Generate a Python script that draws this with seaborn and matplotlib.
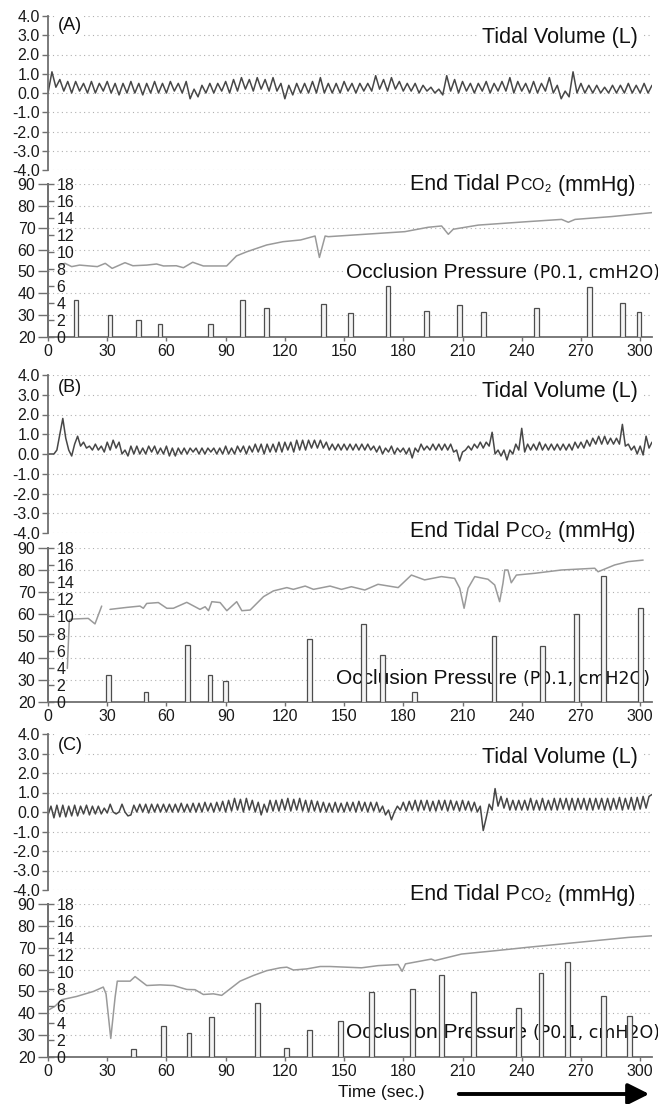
import numpy as np
import pandas as pd
import matplotlib
matplotlib.use("Agg")
import matplotlib.pyplot as plt
from matplotlib import font_manager
from matplotlib.offsetbox import TextArea, HPacker, AnnotationBbox
from matplotlib.patches import FancyArrowPatch
import seaborn as sns

# ---- values ----
TIME_TICKS = [0, 30, 60, 90, 120, 150, 180, 210, 240, 270, 300]
TV_TICKS = [4.0, 3.0, 2.0, 1.0, 0.0, -1.0, -2.0, -3.0, -4.0]
PCO2_TICKS = [20, 30, 40, 50, 60, 70, 80, 90]
P01_TICKS = [0, 2, 4, 6, 8, 10, 12, 14, 16, 18]

# tidal volume (L), alternating trough / peak samples every TV_STEP seconds
TV_STEP_A = 2.0
TV_A = [
    0.0, 1.1, 0.3, 0.7, 0.1, 0.6, 0.0, 0.6, 0.1, 0.5, 0.0, 0.6, 0.0, 0.5, 0.1, 0.6, 0.0, 0.5, -0.1, 0.5,
    0.0, 0.6, 0.0, 0.5, -0.1, 0.5, 0.0, 0.6, 0.0, 0.5, 0.0, 0.6, 0.1, 0.5, 0.0, 0.6, -0.3, 0.2, -0.2, 0.4,
    0.0, 0.5, 0.0, 0.5, 0.1, 0.6, 0.0, 0.7, 0.1, 0.8, 0.2, 0.7, 0.1, 0.8, 0.2, 0.7, 0.1, 0.8, 0.1, 0.5,
    -0.3, 0.4, -0.1, 0.5, 0.0, 0.5, 0.0, 0.6, 0.0, 0.8, 0.0, 0.5, 0.0, 0.5, 0.0, 0.6, 0.1, 0.5, 0.0, 0.5,
    0.1, 0.5, 0.1, 0.9, 0.2, 0.7, 0.1, 0.8, 0.2, 0.6, 0.1, 0.5, 0.1, 0.5, 0.0, 0.4, 0.1, 0.3, 0.0, 0.2,
    -0.1, 0.9, 0.1, 0.7, 0.0, 0.6, 0.1, 0.5, 0.0, 0.5, 0.1, 0.6, 0.0, 0.5, 0.1, 0.6, 0.1, 0.8, 0.0, 0.6,
    0.1, 0.5, 0.0, 0.6, 0.0, 0.5, 0.1, 0.8, 0.0, 0.4, -0.3, 0.1, -0.2, 1.1, 0.0, 0.5, 0.0, 0.4, 0.0, 0.4,
    0.0, 0.3, 0.0, 0.4, 0.0, 0.4, 0.0, 0.5, 0.0, 0.4, 0.0, 0.5, 0.0, 0.4,
]
TV_STEP_B = 1.5
TV_B = [
    0.0, 0.0, 0.0, 0.2, 1.0, 1.8, 0.8, 0.2, -0.1, 0.5,
    0.9, 0.4, 0.6, 0.3, 0.4, 0.2, 0.5, 0.2, 0.4, 0.1,
    0.6, 0.2, 0.7, 0.3, 0.6, 0.0, 0.2, -0.1, 0.4, 0.0,
    0.4, 0.0, 0.3, 0.0, 0.4, 0.1, 0.4, 0.0, 0.3, 0.0,
    0.4, -0.1, 0.3, -0.1, 0.3, 0.0, 0.3, 0.0, 0.3, 0.1,
    0.3, 0.0, 0.3, 0.0, 0.3, 0.1, 0.3, 0.0, 0.3, 0.0,
    0.4, 0.0, 0.3, 0.0, 0.4, 0.1, 0.4, 0.0, 0.4, 0.1,
    0.5, 0.1, 0.5, 0.0, 0.5, 0.1, 0.5, 0.1, 0.6, 0.1,
    0.6, 0.2, 0.6, 0.1, 0.7, 0.2, 0.7, 0.2, 0.7, 0.3,
    0.7, 0.3, 0.7, 0.3, 0.6, 0.2, 0.5, 0.2, 0.5, 0.2,
    0.5, 0.2, 0.5, 0.2, 0.5, 0.2, 0.5, 0.2, 0.5, 0.2,
    0.4, 0.1, 0.4, 0.0, 0.3, 0.1, 0.4, 0.0, 0.3, 0.1,
    0.3, 0.0, 0.3, -0.2, 0.3, 0.1, 0.5, 0.2, 0.4, 0.2,
    0.5, 0.2, 0.5, 0.2, 0.5, 0.2, 0.5, 0.1, 0.2, -0.35,
    0.1, 0.2, 0.4, 0.2, 0.5, 0.3, 0.6, 0.3, 0.6, 0.4,
    1.1, 0.0, 0.2, -0.1, 0.2, -0.3, 0.2, 0.0, 0.5, 0.2,
    1.3, 0.1, 0.5, 0.2, 0.5, 0.2, 0.6, 0.2, 0.5, 0.2,
    0.5, 0.2, 0.5, 0.2, 0.5, 0.2, 0.5, 0.2, 0.6, 0.3,
    0.6, 0.3, 0.7, 0.4, 0.8, 0.5, 0.9, 0.5, 0.9, 0.5,
    0.8, 0.5, 0.8, 0.5, 1.5, 0.4, 0.5, 0.2, 0.4, 0.0,
    0.4, -0.05, 0.9, 0.3, 0.6,
]
TV_STEP_C = 1.5
TV_C = [
    -0.15, 0.3, -0.3, 0.35, -0.25, 0.35, -0.25, 0.3, -0.2, 0.35,
    -0.2, 0.3, -0.1, 0.35, -0.15, 0.3, -0.1, 0.3, -0.1, 0.2,
    -0.05, 0.4, 0.0, -0.1, 0.0, 0.4, 0.0, -0.2, -0.15, 0.35,
    0.0, 0.4, 0.0, 0.4, -0.05, 0.4, 0.0, 0.4, 0.0, 0.4,
    0.0, 0.4, 0.0, 0.4, 0.0, 0.45, 0.0, 0.4, 0.0, 0.45,
    0.0, 0.45, 0.0, 0.5, 0.05, 0.45, 0.0, 0.5, 0.05, 0.55,
    0.0, 0.6, 0.05, 0.7, 0.1, 0.65, 0.0, 0.7, 0.1, 0.6,
    0.0, 0.5, -0.15, 0.4, 0.0, 0.6, 0.05, 0.6, 0.05, 0.65,
    0.1, 0.7, 0.05, 0.65, 0.1, 0.7, 0.05, 0.6, 0.0, 0.6,
    0.05, 0.55, 0.0, 0.5, 0.0, 0.45, 0.0, 0.5, 0.0, 0.45,
    0.0, 0.5, 0.05, 0.5, 0.0, 0.55, 0.05, 0.5, 0.0, 0.5,
    0.05, 0.5, 0.0, 0.3, -0.15, 0.1, -0.4, 0.0, 0.3, 0.1,
    0.5, 0.05, 0.55, 0.1, 0.6, 0.05, 0.6, 0.1, 0.6, 0.05,
    0.55, 0.05, 0.6, 0.1, 0.6, 0.05, 0.6, 0.1, 0.55, 0.05,
    0.6, 0.1, 0.55, 0.05, 0.5, 0.0, 0.3, -0.95, -0.3, 0.4,
    0.1, 1.2, 0.3, 0.8, 0.2, 0.7, 0.1, 0.6, 0.1, 0.6,
    0.1, 0.6, 0.1, 0.7, 0.1, 0.6, 0.1, 0.7, 0.1, 0.6,
    0.1, 0.7, 0.1, 0.7, 0.15, 0.7, 0.1, 0.7, 0.1, 0.7,
    0.15, 0.7, 0.1, 0.7, 0.1, 0.7, 0.15, 0.7, 0.1, 0.7,
    0.1, 0.7, 0.15, 0.75, 0.1, 0.7, 0.15, 0.75, 0.1, 0.75,
    0.15, 0.8, 0.2, 0.8, 0.9,
]

# end tidal PCO2 (mmHg); NaN marks a gap in the trace
PCO2_A_T = [6, 8.6, 12, 16, 25, 29, 32.5, 39, 43, 50, 55, 58.5, 65, 68.6, 73.3, 78.7, 90.5,
            95.5, 100.7, 110.8, 119, 128, 135.3, 137.5, 140.4, 142, 180.8, 192.6, 199.4,
            202.8, 205.3, 218, 243.3, 260.2, 263.6, 267, 285.6, 305.9]
PCO2_A = [52.9, 53.7, 52.2, 52.9, 52.2, 53.7, 51.4, 54.0, 52.6, 52.9, 53.4, 52.5, 52.6, 51.7,
          54.2, 52.5, 52.5, 57.1, 59.0, 62.1, 63.6, 64.4, 66.2, 56.4, 66.2, 65.9, 68.2, 70.2,
          70.8, 67.0, 69.3, 71.2, 72.8, 73.8, 72.5, 73.8, 75.1, 76.9]
PCO2_B_T = [9.8, 10.8, 12, 20.4, 23.8, 27.2, np.nan, 31.4, 39.9, 46.6, 48.3, 50, 55.9, 60.2,
            63.5, 70.3, 77, 79.6, 81.3, 83, 87.2, 90.6, 95.6, 98.2, 102.4, 109.2, 114.2, 121,
            124.3, 130.3, 134.5, 142.9, 148.7, 153.7, 160.5, 167.2, 177.4, 184.1, 190.8, 199.3,
            206, 208.6, 210.8, 212.8, 216.2, 222.9, 226.3, 228.8, 230.5, 231.4, 233, 234.7,
            237.3, 246.6, 260.1, 277, 278.7, 287.1, 293.9, 301.5]
PCO2_B = [35.3, 57.3, 57.7, 58.0, 55.5, 63.6, np.nan, 62.1, 63.0, 63.6, 62.6, 64.8, 65.2, 62.6,
          62.6, 65.3, 62.1, 63.3, 61.5, 65.6, 65.2, 61.5, 65.6, 61.5, 61.8, 67.9, 70.5, 72.0,
          71.2, 72.7, 71.2, 72.7, 71.2, 72.4, 70.9, 73.5, 72.0, 77.7, 75.5, 77.0, 76.2, 71.7,
          62.6, 71.7, 77.0, 75.8, 73.2, 65.6, 74.0, 80.0, 80.0, 74.2, 77.7, 78.5, 80.0, 80.8,
          79.2, 82.3, 83.8, 84.5]
PCO2_C_T = [0.7, 3.5, 6.9, 14.5, 23, 28, 29.4, 31.8, 34, 35.1, 41.6, 44.1, 50, 56.8, 63.6,
            70.3, 74.5, 78.7, 83.8, 88, 92.3, 97.3, 104.1, 110.8, 117.6, 121, 124.3, 131.1,
            137.9, 142.9, 158.8, 167.2, 177.4, 179.4, 181.1, 194.2, 196, 209.5, 226.3, 243.2,
            260.1, 277, 293.9, 306.6]
PCO2_C = [41.7, 43.2, 46.2, 47.7, 50.0, 52.0, 48.9, 28.5, 47.4, 54.7, 54.7, 56.8, 52.7, 53.0,
          52.7, 50.9, 50.8, 48.6, 48.9, 48.2, 51.2, 54.7, 57.3, 59.5, 60.8, 61.1, 59.8, 60.3,
          61.4, 61.4, 60.8, 61.8, 62.3, 59.2, 62.6, 64.8, 64.1, 67.1, 68.6, 70.2, 71.7, 73.2,
          74.7, 75.5]

# occlusion pressure P0.1 (cmH2O)
P01_A_T = [14.2, 31.4, 45.8, 56.8, 82.4, 98.5, 110.8, 139.5, 153.4, 172.3, 191.7, 208.6,
           220.7, 247.5, 274.2, 290.9, 299.4]
P01_A = [4.4, 2.6, 2.0, 1.5, 1.5, 4.3, 3.4, 3.9, 2.8, 6.0, 3.1, 3.8, 2.9, 3.4, 5.9, 4.0, 2.9]
P01_B_T = [30.6, 49.7, 70.6, 82.1, 90.0, 132.4, 159.7, 169.5, 185.5, 225.9, 250.4, 267.8,
           281.6, 300.2]
P01_B = [3.2, 1.2, 6.7, 3.2, 2.5, 7.4, 9.1, 5.5, 1.2, 7.7, 6.5, 10.3, 14.7, 11.0]
P01_C_T = [43.2, 58.4, 71.5, 82.8, 106.1, 121.0, 132.3, 148.3, 163.9, 184.7, 199.4, 215.6,
           238.2, 249.7, 263.1, 281.5, 294.7]
P01_C = [0.9, 3.6, 2.8, 4.7, 6.3, 1.1, 3.2, 4.2, 7.6, 8.0, 9.6, 7.7, 5.8, 9.9, 11.2, 7.2, 4.8]

# ---- layout (pixels from the top-left of the 658x1104 picture) ----
W, H = 658, 1104
X0, X1 = 48, 652
GEO = {
    "A": dict(tv=(16, 170), lo=(184, 337), tag=26, tidal=37, etco2=185, occ=(346, 273)),
    "B": dict(tv=(375, 533), lo=(548, 702), tag=388, tidal=392, etco2=532, occ=(336, 678)),
    "C": dict(tv=(734, 890), lo=(904, 1057), tag=745, tidal=757, etco2=895, occ=(346, 1032)),
}

sns.set_style("white")
names = {f.name for f in font_manager.fontManager.ttflist}
FONT = "Liberation Sans" if "Liberation Sans" in names else "DejaVu Sans"
plt.rcParams["font.family"] = [FONT, "DejaVu Sans"]
plt.rcParams["mathtext.fontset"] = "custom"
plt.rcParams["mathtext.rm"] = FONT

SPINE = "#707070"
GRID = "#b0b0b0"
TICK_FS = 11.5


def fx(x):
    return x / W


def fy(y):
    return 1 - y / H


def pbox(top, bottom):
    return [X0 / W, 1 - bottom / H, (X1 - X0) / W, (bottom - top) / H]


def style_axis(ax):
    for s in ax.spines.values():
        s.set_visible(False)
    ax.spines["left"].set_visible(True)
    ax.spines["left"].set_color(SPINE)
    ax.spines["left"].set_linewidth(1.3)
    ax.yaxis.grid(True, linestyle=(0, (1, 3)), color=GRID, linewidth=0.8)
    ax.xaxis.grid(False)
    ax.set_xlabel("")
    ax.set_ylabel("")


def label_box(ax, parts, x, y):
    areas = [TextArea(s, textprops=dict(size=sz, color="#111", family=fam))
             for s, sz, fam in parts]
    pack = HPacker(children=areas, align="baseline", pad=0, sep=0)
    ab = AnnotationBbox(pack, (fx(x), fy(y)), xycoords="figure fraction",
                        box_alignment=(0, 0.5), frameon=True, pad=0.15,
                        bboxprops=dict(facecolor="white", edgecolor="none"),
                        annotation_clip=False, zorder=2)
    ax.add_artist(ab)


fig = plt.figure(figsize=(W / 100, H / 100), dpi=100)

panels = [
    ("A", TV_A, TV_STEP_A, PCO2_A_T, PCO2_A, P01_A_T, P01_A),
    ("B", TV_B, TV_STEP_B, PCO2_B_T, PCO2_B, P01_B_T, P01_B),
    ("C", TV_C, TV_STEP_C, PCO2_C_T, PCO2_C, P01_C_T, P01_C),
]

for name, tv, step, co2_t, co2, p_t, p in panels:
    g = GEO[name]

    # tidal volume
    ax = fig.add_axes(pbox(*g["tv"]))
    tv_df = pd.DataFrame({"t": np.arange(len(tv)) * step, "v": tv})
    sns.lineplot(data=tv_df, x="t", y="v", ax=ax, estimator=None, sort=False,
                 color="#474747", linewidth=1.1)
    ax.set_xlim(0, 306)
    ax.set_ylim(-4, 4)
    ax.set_yticks(TV_TICKS)
    ax.set_yticklabels([f"{v:.1f}" for v in TV_TICKS])
    ax.set_xticks([])
    style_axis(ax)
    ax.tick_params(axis="y", length=4, width=1, color=SPINE, pad=2,
                   labelsize=TICK_FS, labelcolor="#1a1a1a", left=True)
    ax.text(fx(58), fy(g["tag"]), f"({name})", transform=fig.transFigure, ha="left",
            va="center", size=13, color="#111",
            bbox=dict(facecolor="white", edgecolor="none", pad=1.5))
    ax.text(fx(638), fy(g["tidal"]), "Tidal Volume (L)", transform=fig.transFigure,
            ha="right", va="center", size=15.5, color="#111",
            bbox=dict(facecolor="white", edgecolor="none", pad=2))

    # end tidal PCO2 + occlusion pressure
    lo = fig.add_axes(pbox(*g["lo"]))
    co2_df = pd.DataFrame({"t": co2_t, "v": co2})
    co2_df["seg"] = co2_df["v"].isna().cumsum()
    co2_df = co2_df.dropna()
    sns.lineplot(data=co2_df, x="t", y="v", units="seg", estimator=None, sort=False,
                 ax=lo, color="#9a9a9a", linewidth=1.1)
    lo.set_xlim(0, 306)
    lo.set_ylim(20, 90)
    lo.set_yticks(PCO2_TICKS)
    lo.set_xticks(TIME_TICKS)
    style_axis(lo)
    lo.spines["bottom"].set_visible(True)
    lo.spines["bottom"].set_color(SPINE)
    lo.spines["bottom"].set_linewidth(1.3)
    lo.tick_params(axis="y", length=7, width=1, color=SPINE, pad=2,
                   labelsize=TICK_FS, labelcolor="#1a1a1a", left=True)
    lo.tick_params(axis="x", length=3, width=1, color=SPINE, pad=2,
                   labelsize=TICK_FS, labelcolor="#1a1a1a", bottom=True)

    label_box(lo, [("End Tidal P", 15.5, FONT), (r"$\mathregular{CO_2}$", 11.5, FONT),
                   (" (mmHg)", 15.5, FONT)], 410, g["etco2"])
    label_box(lo, [("Occlusion Pressure ", 15, FONT), ("(P0.1, cmH2O)", 12.5, "DejaVu Sans")],
              g["occ"][0], g["occ"][1])

    inner = lo.twinx()
    inner.bar(p_t, p, width=2.4, color="#f4f4f4", edgecolor="#4d4d4d",
              linewidth=0.9, zorder=3)
    inner.set_xlim(0, 306)
    inner.set_ylim(0, 18)
    inner.set_yticks(P01_TICKS)
    for s in inner.spines.values():
        s.set_visible(False)
    inner.spines["right"].set_visible(True)
    inner.spines["right"].set_position(("axes", 0))
    inner.spines["right"].set_color(SPINE)
    inner.spines["right"].set_linewidth(1.3)
    inner.tick_params(axis="y", length=4, width=1, color=SPINE, pad=2,
                      labelsize=TICK_FS, labelcolor="#1a1a1a", right=True)
    inner.grid(False)

fig.text(fx(338), fy(1092), "Time (sec.)", ha="left", va="center", size=12.5,
         color="#111")
fig.add_artist(FancyArrowPatch((fx(456), fy(1094)), (fx(652), fy(1094)),
                               transform=fig.transFigure, arrowstyle="-|>",
                               mutation_scale=32, linewidth=2.8, color="black"))

fig.savefig("out.png", dpi=100)
